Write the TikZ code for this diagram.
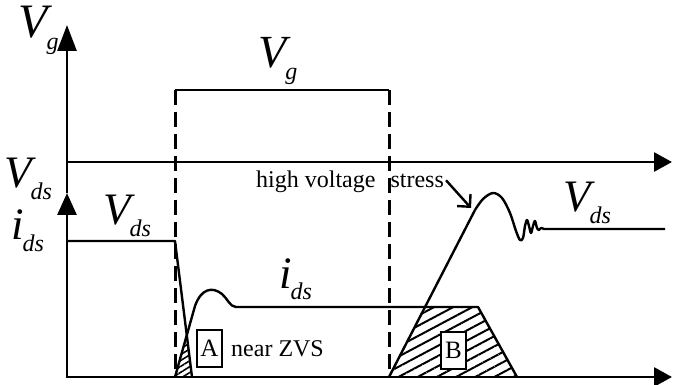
\documentclass[tikz,border=0pt]{standalone}
\usepackage{fontspec}
\setmainfont{Liberation Serif}
\usetikzlibrary{arrows.meta,patterns.meta}
\newcommand{\sublbl}[3]{{\fontsize{#1}{#1}\selectfont\itshape #2}\kern-1pt\raisebox{-12pt}{\fontsize{24pt}{24pt}\selectfont\itshape #3}}
\begin{document}
\begin{tikzpicture}[x=1pt,y=-1pt,
  axis/.style={line width=2.8pt, -{Triangle[length=26pt,width=19pt]}},
  wave/.style={line width=2.4pt, line join=round},
  dashv/.style={line width=3pt, dash pattern=on 15pt off 7pt},
  hatchA/.style={pattern={Lines[angle=32,distance=5pt,line width=1.6pt]}},
  hatchB/.style={pattern={Lines[angle=28,distance=9pt,line width=2pt]}},
  lbl/.style={anchor=base west, inner sep=0pt},
  boxlbl/.style={draw, line width=2pt, fill=white, inner sep=0pt, minimum width=25pt, minimum height=37pt, font=\fontsize{25pt}{25pt}\selectfont},
  note/.style={anchor=base west, inner sep=0pt, font=\fontsize{24pt}{24pt}\selectfont}
]
\useasboundingbox (0,0) rectangle (673,385);
% axes
\coordinate (O) at (67,377);
\coordinate (Ytop) at (67,25);
\coordinate (Ymid) at (67,193);
\coordinate (Xbot) at (672,377);
\coordinate (Xmidstart) at (67,162);
\coordinate (Xmid) at (672,162);
% hatched areas
\fill[hatchA] (175,377) -- (187,336) -- (192,377) -- cycle;
\fill[hatchB] (389,377) -- (425,307) -- (478,307) -- (517,377) -- cycle;
\draw[line width=2.8pt, {Triangle[length=22pt,width=19pt]}-{Triangle[length=18pt,width=19pt]}] (Ymid) -- (O) -- (Xbot);
\draw[axis] (Ymid) -- (Ytop);
\draw[line width=2.8pt, -{Triangle[length=18pt,width=19pt]}] (Xmidstart) -- (Xmid);
% gate pulse
\coordinate (P1) at (175,90);
\coordinate (P2) at (389,90);
\draw[line width=2.4pt] (P1) -- (P2);
\draw[dashv] (P1) -- (175,377);
\draw[dashv] (P2) -- (389,377);
% Vds waveform
\draw[wave] (67,241) -- (175,241) -- (192,377);
\draw[wave] (389,377) -- (475,210);
\draw[wave] plot[smooth, tension=0.55] coordinates {(475,210) (483,199) (493,193) (502,198) (510,213) (516,231) (520,240) (523,238) (525,226) (527,220) (529,226) (531,233) (533,226) (535,221) (537,228) (539,230) (541,228) (544,229)} -- (665,229);
% ids waveform
\draw[wave] (175,377) -- (195,306) .. controls (201,289) and (212,286) .. (222,294) .. controls (227,298) and (230,307) .. (236,307) -- (478,307) -- (517,377);
% boxes
\node[boxlbl] (boxA) at (209.5,348.5) {A};
\node[boxlbl] (boxB) at (453.5,350) {B};
\node[note] (zvs) at (231,356) {near ZVS};
% stress annotation
\node[note] (hvs) at (256,188) {high voltage\hspace{15pt}stress};
\coordinate (stresstip) at (471,208);
\draw[line width=2.4pt, -{Straight Barb[length=9pt,width=18pt]}] (hvs.east) ++(2pt,2pt) -- (stresstip);
% labels
\node[lbl] (lVg) at (18,38) {\sublbl{48pt}{V}{g}};
\node[lbl] (cVg) at (258,68) {\sublbl{46pt}{V}{g}};
\node[lbl] (lVds) at (4,188) {\sublbl{45pt}{V}{ds}};
\node[lbl] (lids) at (11,240) {\sublbl{45pt}{i}{ds}};
\node[lbl] (mVds) at (103,225) {\sublbl{45pt}{V}{ds}};
\node[lbl] (mids) at (279,288) {\sublbl{45pt}{i}{ds}};
\node[lbl] (rVds) at (563,212) {\sublbl{45pt}{V}{ds}};
\end{tikzpicture}
\end{document}
